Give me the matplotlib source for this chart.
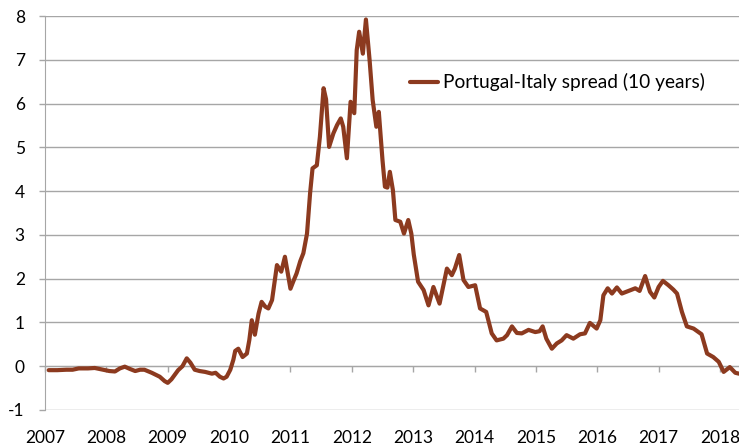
import matplotlib.pyplot as plt

# Spread Portugal-Italia a 10 anni (anni decimali)
anni = [
    2007.06, 2007.20, 2007.35, 2007.45, 2007.55, 2007.70, 2007.81, 2007.95,
    2008.05, 2008.14, 2008.22, 2008.30, 2008.38, 2008.47, 2008.55, 2008.62,
    2008.74, 2008.87, 2008.95, 2009.00, 2009.06, 2009.17, 2009.24, 2009.31,
    2009.37, 2009.44, 2009.52, 2009.61, 2009.72, 2009.78, 2009.85, 2009.91,
    2009.96, 2010.02, 2010.07, 2010.10, 2010.15, 2010.22, 2010.29, 2010.33,
    2010.37, 2010.42, 2010.48, 2010.53, 2010.59, 2010.64, 2010.70, 2010.78,
    2010.85, 2010.91, 2010.96, 2011.00, 2011.05, 2011.10, 2011.16, 2011.21,
    2011.27, 2011.32, 2011.36, 2011.43, 2011.48, 2011.54, 2011.58, 2011.63,
    2011.70, 2011.76, 2011.82, 2011.86, 2011.92, 2011.98, 2012.04, 2012.08,
    2012.12, 2012.18, 2012.23, 2012.29, 2012.34, 2012.40, 2012.44, 2012.50,
    2012.54, 2012.58, 2012.62, 2012.67, 2012.71, 2012.79, 2012.85, 2012.92,
    2012.97, 2013.01, 2013.08, 2013.17, 2013.25, 2013.33, 2013.43, 2013.55,
    2013.63, 2013.68, 2013.75, 2013.82, 2013.90, 2014.01, 2014.09, 2014.19,
    2014.28, 2014.36, 2014.47, 2014.53, 2014.61, 2014.69, 2014.77, 2014.88,
    2014.99, 2015.06, 2015.11, 2015.17, 2015.26, 2015.34, 2015.42, 2015.50,
    2015.61, 2015.72, 2015.80, 2015.88, 2015.99, 2016.05, 2016.10, 2016.17,
    2016.24, 2016.32, 2016.40, 2016.51, 2016.62, 2016.69, 2016.78, 2016.86,
    2016.93, 2017.00, 2017.07, 2017.16, 2017.24, 2017.30, 2017.38, 2017.46,
    2017.57, 2017.70, 2017.79, 2017.89, 2017.98, 2018.06, 2018.16, 2018.25,
    2018.31,
]
spread = [
    -0.09, -0.09, -0.08, -0.08, -0.05, -0.05, -0.04, -0.08,
    -0.11, -0.12, -0.05, -0.01, -0.06, -0.11, -0.08, -0.08,
    -0.15, -0.24, -0.34, -0.38, -0.30, -0.09, 0.00, 0.18,
    0.08, -0.08, -0.11, -0.13, -0.17, -0.15, -0.24, -0.28,
    -0.24, -0.08, 0.15, 0.35, 0.40, 0.21, 0.29, 0.60,
    1.05, 0.72, 1.20, 1.47, 1.36, 1.32, 1.51, 2.31,
    2.16, 2.50, 2.10, 1.77, 1.95, 2.12, 2.40, 2.58,
    3.03, 3.95, 4.52, 4.59, 5.24, 6.35, 6.10, 5.01,
    5.32, 5.51, 5.66, 5.47, 4.75, 6.04, 5.78, 7.22,
    7.64, 7.14, 7.92, 6.99, 6.08, 5.47, 5.81, 4.71,
    4.10, 4.08, 4.44, 4.02, 3.34, 3.30, 3.03, 3.34,
    3.03, 2.55, 1.93, 1.74, 1.39, 1.81, 1.43, 2.23,
    2.08, 2.23, 2.54, 1.97, 1.81, 1.85, 1.32, 1.24,
    0.75, 0.59, 0.63, 0.71, 0.91, 0.76, 0.75, 0.83,
    0.78, 0.80, 0.91, 0.63, 0.40, 0.52, 0.59, 0.71,
    0.63, 0.73, 0.75, 0.99, 0.86, 1.05, 1.62, 1.78,
    1.66, 1.80, 1.66, 1.72, 1.78, 1.72, 2.06, 1.70,
    1.57, 1.81, 1.95, 1.85, 1.75, 1.66, 1.24, 0.91,
    0.86, 0.73, 0.29, 0.21, 0.10, -0.13, -0.02, -0.15,
    -0.17,
]
anni_tick = list(range(2007, 2019))
y_tick = list(range(-1, 9))
etichetta = 'Portugal-Italy spread (10 years)'

COLORE = '#8C3A1F'
GRIGIO = '#A6A6A6'

plt.rcParams['font.family'] = ['Lato', 'DejaVu Sans']
plt.rcParams['axes.unicode_minus'] = False

fig = plt.figure(figsize=(7.39, 4.45), dpi=100)
ax = fig.add_axes([45 / 739, 35 / 445, 694 / 739, 394 / 445])

ax.plot(anni, spread, color=COLORE, linewidth=3.0, label=etichetta,
        solid_joinstyle='round', solid_capstyle='round', zorder=3)

ax.set_xlim(2007, 2018.31)
ax.set_ylim(-1, 8)
ax.set_yticks(y_tick)
ax.set_xticks(anni_tick)
ax.set_xticklabels([str(a) for a in anni_tick])

# griglia orizzontale grigia
ax.grid(True, axis='y', color=GRIGIO, linewidth=1)
ax.set_axisbelow(True)

# asse x sulla linea dello zero, etichette in basso
ax.spines['top'].set_visible(False)
ax.spines['right'].set_visible(False)
ax.spines['bottom'].set_position(('data', 0))
ax.spines['bottom'].set_color(GRIGIO)
ax.spines['left'].set_color(GRIGIO)
ax.tick_params(axis='x', colors=GRIGIO, length=4.5, width=1,
               pad=41.5, labelcolor='black', labelsize=12.5)
ax.tick_params(axis='y', colors=GRIGIO, length=4.5, width=1,
               pad=10, labelcolor='black', labelsize=12.5)

ax.legend(loc='center left', bbox_to_anchor=(0.526, 0.832), frameon=False,
          borderaxespad=0, borderpad=0, handlelength=1.45,
          handletextpad=0.25, fontsize=13.8)

fig.savefig('out.png', dpi=100)
plt.close(fig)
